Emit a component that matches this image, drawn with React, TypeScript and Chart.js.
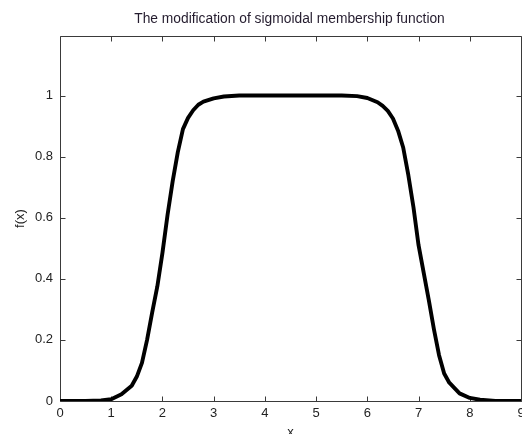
import React, { useEffect, useRef } from 'react';
import { Chart, registerables } from 'chart.js';

Chart.register(...registerables);

const TITLE = 'The modification of sigmoidal membership function';
const X_LABEL = 'x';
const Y_LABEL = 'f(x)';

const xValues = [
  0, 0.5, 0.8, 1.0, 1.2, 1.4, 1.5, 1.6, 1.7, 1.8, 1.9, 2.0, 2.1, 2.2, 2.3, 2.4, 2.5, 2.6, 2.7, 2.8, 3.0, 3.2, 3.5,
  4.0, 4.5, 5.0, 5.5, 5.8, 6.0, 6.2, 6.3, 6.4, 6.5, 6.6, 6.7, 6.8, 6.9, 7.0, 7.1, 7.2, 7.3, 7.4, 7.5, 7.6, 7.8,
  8.0, 8.2, 8.5, 9.0,
];
const fValues = [
  0, 0, 0.002, 0.006, 0.022, 0.05, 0.08, 0.125, 0.2, 0.29, 0.375, 0.485, 0.61, 0.72, 0.815, 0.89, 0.927, 0.952,
  0.97, 0.98, 0.991, 0.997, 1, 1, 1, 1, 1, 0.998, 0.992, 0.978, 0.966, 0.95, 0.925, 0.885, 0.83, 0.74, 0.635,
  0.51, 0.42, 0.33, 0.235, 0.15, 0.09, 0.06, 0.025, 0.01, 0.004, 0, 0,
];
const xTickValues = [0, 1, 2, 3, 4, 5, 6, 7, 8, 9];
const yTickValues = [0, 0.2, 0.4, 0.6, 0.8, 1];
const xRange = [0, 9];
const yRange = [0, 1.195];

const FONT = '"Liberation Sans", Arial, sans-serif';
const TEXT = '#222222';
const TITLE_COLOR = '#241c2e';
const AXIS = '#3a3a3a';

const boxPlugin = {
  id: 'matlabBox',
  beforeDatasetsDraw(chart: any) {
    const { ctx, chartArea: a, scales } = chart;
    const L = 5;
    const left = Math.floor(a.left) + 0.5;
    const right = Math.floor(a.right) + 0.5;
    const top = Math.floor(a.top) + 0.5;
    const bottom = Math.floor(a.bottom) + 0.5;
    ctx.save();
    ctx.strokeStyle = AXIS;
    ctx.lineWidth = 1;
    ctx.beginPath();
    ctx.moveTo(left, top);
    ctx.lineTo(right, top);
    ctx.lineTo(right, bottom);
    ctx.lineTo(left, bottom);
    ctx.closePath();
    for (const t of scales.x.ticks) {
      const px = Math.round(scales.x.getPixelForValue(t.value)) + 0.5;
      ctx.moveTo(px, bottom);
      ctx.lineTo(px, bottom - L);
      ctx.moveTo(px, top);
      ctx.lineTo(px, top + L);
    }
    for (const t of scales.y.ticks) {
      const py = Math.round(scales.y.getPixelForValue(t.value)) + 0.5;
      ctx.moveTo(left, py);
      ctx.lineTo(left + L, py);
      ctx.moveTo(right, py);
      ctx.lineTo(right - L, py);
    }
    ctx.stroke();

    // title centred over the axes box, as MATLAB does
    ctx.fillStyle = TITLE_COLOR;
    ctx.font = `13.8px ${FONT}`;
    ctx.textAlign = 'center';
    ctx.textBaseline = 'alphabetic';
    ctx.fillText(TITLE, (a.left + a.right) / 2 - 1, 23.3);
    ctx.restore();
  },
};

export default function App() {
  const ref = useRef<HTMLCanvasElement | null>(null);

  useEffect(() => {
    if (!ref.current) return;
    const points = xValues.map((x, i) => ({ x, y: fValues[i] }));
    const chart = new Chart(ref.current, {
      type: 'line',
      data: {
        datasets: [
          {
            data: points,
            borderColor: '#000000',
            borderWidth: 3.9,
            pointRadius: 0,
            tension: 0,
            fill: false,
            borderJoinStyle: 'round',
            borderCapStyle: 'round',
          },
        ],
      },
      options: {
        animation: false,
        responsive: false,
        devicePixelRatio: 1,
        layout: { padding: { left: 0, right: 19, top: 36, bottom: 0 } },
        plugins: {
          legend: { display: false },
          tooltip: { enabled: false },
          title: { display: false },
        },
        scales: {
          x: {
            type: 'linear',
            min: xRange[0],
            max: xRange[1],
            afterFit: (s: any) => {
              s.height = 33;
            },
            afterBuildTicks: (s: any) => {
              s.ticks = xTickValues.map((v) => ({ value: v }));
            },
            grid: { display: false, drawTicks: false },
            border: { display: false },
            ticks: {
              color: TEXT,
              font: { family: FONT, size: 13 },
              padding: 4.5,
              maxRotation: 0,
              autoSkip: false,
              callback: (v: any) => String(v),
            },
            title: {
              display: true,
              text: X_LABEL,
              color: TEXT,
              font: { family: FONT, size: 13 },
              padding: { top: 0, bottom: -6 },
            },
          },
          y: {
            type: 'linear',
            min: yRange[0],
            max: yRange[1],
            afterFit: (s: any) => {
              s.width = 60;
            },
            afterBuildTicks: (s: any) => {
              s.ticks = yTickValues.map((v) => ({ value: v }));
            },
            grid: { display: false, drawTicks: false },
            border: { display: false },
            ticks: {
              color: TEXT,
              font: { family: FONT, size: 13 },
              padding: 7,
              autoSkip: false,
              callback: (v: any) => String(Math.round(Number(v) * 10) / 10),
            },
            title: {
              display: true,
              text: Y_LABEL,
              color: TEXT,
              font: { family: FONT, size: 13 },
              padding: { top: 12.7, bottom: 0 },
            },
          },
        },
      },
      plugins: [boxPlugin],
    } as any);
    return () => chart.destroy();
  }, []);

  return (
    <div
      style={{
        position: 'fixed',
        left: 0,
        top: 0,
        width: 522,
        height: 434,
        overflow: 'hidden',
        background: '#ffffff',
      }}
    >
      <canvas ref={ref} width={540} height={434} style={{ display: 'block', width: 540, height: 434 }} />
    </div>
  );
}
